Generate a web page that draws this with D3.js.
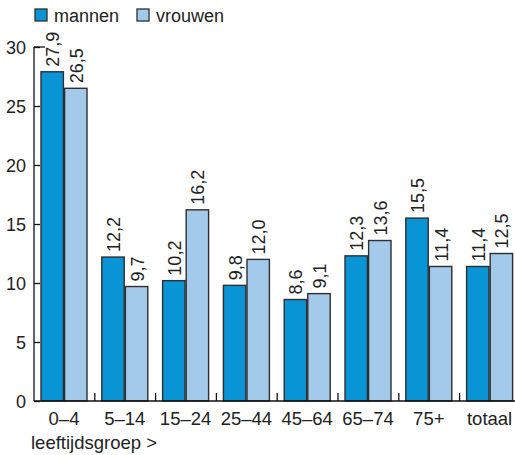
<!DOCTYPE html>
<html>
<head>
<meta charset="utf-8">
<script src="https://cdn.jsdelivr.net/npm/d3@7"></script>
<style>
  body { margin: 0; background: #fff; }
  svg { font-family: "Liberation Sans", Arial, sans-serif; }
</style>
</head>
<body>
<svg id="chart" width="515" height="455"></svg>
<script>
// Data
const groups = ['0–4', '5–14', '15–24', '25–44', '45–64', '65–74', '75+', 'totaal']
const series = ['mannen', 'vrouwen']
const mannen = [27.9, 12.2, 10.2, 9.8, 8.6, 12.3, 15.5, 11.4]
const vrouwen = [26.5, 9.7, 16.2, 12.0, 9.1, 13.6, 11.4, 12.5]
const y_ticks = [0, 5, 10, 15, 20, 25, 30]

const colors = { mannen: '#0994d6', vrouwen: '#a3caea' }
const stroke = '#2e2e2e'
const txt = '#222'

let svg = d3.select('#chart')

// Scales
let x = d3.scaleBand()
  .domain(groups)
  .range([34, 34 + 60.8 * groups.length])
  .paddingInner(0)
  .paddingOuter(0)

let x_inner = d3.scaleBand()
  .domain(series)
  .range([7, 7 + 46])
  .paddingInner(0.05)

let y = d3.scaleLinear()
  .domain([0, 30])
  .range([401, 47])

// Y axis
let y_axis = svg.append('g')
  .attr('transform', 'translate(34,0)')
  .call(d3.axisRight(y).tickValues(y_ticks).tickSize(6).tickFormat(''))
y_axis.select('.domain').remove()
y_axis.selectAll('line').attr('stroke', '#111').attr('stroke-width', 1.3)
svg.append('line')
  .attr('x1', 34).attr('x2', 34)
  .attr('y1', y(30)).attr('y2', y(0))
  .attr('stroke', '#111').attr('stroke-width', 1.3)
// longer top tick
svg.append('line')
  .attr('x1', 34).attr('x2', 45)
  .attr('y1', y(30)).attr('y2', y(30))
  .attr('stroke', '#111').attr('stroke-width', 1.3)

svg.selectAll('.y-label')
  .data(y_ticks)
  .enter()
  .append('text')
    .attr('class', 'y-label')
    .attr('x', 26)
    .attr('y', d => y(d) + 6.5)
    .attr('text-anchor', 'end')
    .attr('font-size', 18)
    .attr('fill', txt)
    .text(d => d)

// Bars
let rows = groups.map((g, i) => ({ group: g, mannen: mannen[i], vrouwen: vrouwen[i] }))

let group_g = svg.selectAll('.group')
  .data(rows)
  .enter()
  .append('g')
    .attr('class', 'group')
    .attr('transform', d => `translate(${x(d.group)},0)`)

group_g.selectAll('rect')
  .data(d => series.map(s => ({ key: s, value: d[s] })))
  .enter()
  .append('rect')
    .attr('x', d => x_inner(d.key))
    .attr('y', d => y(d.value))
    .attr('width', x_inner.bandwidth())
    .attr('height', d => y(0) - y(d.value))
    .attr('fill', d => colors[d.key])
    .attr('stroke', stroke)
    .attr('stroke-width', 1.4)

// Value labels
group_g.selectAll('.val')
  .data(d => series.map(s => ({ key: s, value: d[s] })))
  .enter()
  .append('text')
    .attr('class', 'val')
    .attr('transform', d => {
      let cx = x_inner(d.key) + x_inner.bandwidth() / 2 + 7
      let cy = y(d.value) - 5
      return `translate(${cx},${cy}) rotate(-90)`
    })
    .attr('font-size', 18)
    .attr('fill', txt)
    .text(d => d3.format('.1f')(d.value).replace('.', ','))

// X axis baseline
svg.append('line')
  .attr('x1', 34).attr('x2', 515)
  .attr('y1', y(0)).attr('y2', y(0))
  .attr('stroke', '#111').attr('stroke-width', 1.6)

// Group separator ticks
svg.selectAll('.sep')
  .data(groups.slice(1))
  .enter()
  .append('line')
    .attr('class', 'sep')
    .attr('x1', d => x(d)).attr('x2', d => x(d))
    .attr('y1', y(0)).attr('y2', y(0) - 8)
    .attr('stroke', '#111').attr('stroke-width', 1.3)

// X labels
svg.selectAll('.x-label')
  .data(groups)
  .enter()
  .append('text')
    .attr('class', 'x-label')
    .attr('x', d => x(d) + 7 + 23)
    .attr('y', 425)
    .attr('text-anchor', 'middle')
    .attr('font-size', 18.5)
    .attr('fill', txt)
    .text(d => d)

svg.append('text')
  .attr('x', 31)
  .attr('y', 449)
  .attr('font-size', 18.5)
  .attr('fill', txt)
  .text('leeftijdsgroep >')

// Legend
let legend = svg.selectAll('.legend')
  .data(series)
  .enter()
  .append('g')
    .attr('class', 'legend')
    .attr('transform', (d, i) => `translate(${35 + i * 102},9)`)

legend.append('rect')
  .attr('width', 12).attr('height', 12)
  .attr('fill', d => colors[d])
  .attr('stroke', stroke)
  .attr('stroke-width', 1.3)

legend.append('text')
  .attr('x', 19)
  .attr('y', 12.5)
  .attr('font-size', 18)
  .attr('fill', txt)
  .text(d => d)
</script>
</body>
</html>
